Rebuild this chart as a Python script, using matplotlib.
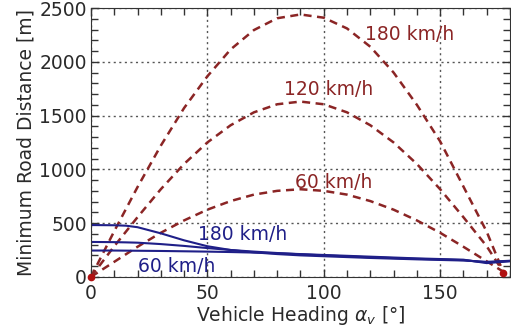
import numpy as np
import matplotlib
matplotlib.use("Agg")
import matplotlib.pyplot as plt
from matplotlib.ticker import MultipleLocator

# heading angles [deg] at which the curves were sampled
angles_red = [0, 10, 20, 30, 40, 50, 60, 70, 80, 90, 100, 110, 120, 130, 140, 150, 160, 170, 177]
red_180 = [0, 425, 835, 1220, 1570, 1865, 2115, 2295, 2405, 2440, 2410, 2310, 2140, 1900, 1600, 1260, 840, 420, 50]
red_120 = [0, 285, 555, 815, 1050, 1250, 1410, 1530, 1605, 1630, 1605, 1530, 1410, 1250, 1050, 815, 555, 285, 50]
red_60 = [0, 140, 280, 410, 525, 625, 705, 765, 800, 815, 800, 765, 705, 625, 525, 410, 280, 145, 50]

angles_blue = [0, 10, 15, 20, 30, 40, 50, 60, 70, 80, 90, 100, 120, 140, 160, 170, 180]
blue_180 = [482, 480, 476, 462, 405, 340, 285, 250, 228, 212, 200, 192, 176, 163, 152, 140, 150]
blue_120 = [325, 323, 321, 318, 305, 288, 268, 250, 235, 222, 210, 200, 182, 168, 156, 135, 148]
blue_60 = [245, 245, 244, 243, 241, 238, 235, 231, 226, 220, 212, 204, 188, 172, 160, 128, 145]

end_points_x = [0, 177]
end_points_y = [0, 40]

red = "#8b2525"
blue = "#1f1f88"
fs = 13.5

plt.rcParams["font.family"] = ["DejaVu Sans"]
plt.rcParams["mathtext.fontset"] = "dejavusans"
plt.rcParams["text.color"] = "#2a2a2a"
plt.rcParams["axes.labelcolor"] = "#2a2a2a"

fig = plt.figure(figsize=(5.11, 3.34), dpi=100)
ax = fig.add_axes([0.178, 0.171, 0.820, 0.805])

for vals in (red_180, red_120, red_60):
    ax.plot(angles_red, vals, color=red, lw=1.8, dashes=(3.2, 2.2))
for vals in (blue_180, blue_120, blue_60):
    ax.plot(angles_blue, vals, color=blue, lw=1.5)
ax.plot(end_points_x, end_points_y, "o", color="#b01010", ms=4.5, ls="none", clip_on=False, zorder=5)

ax.text(117.6, 2250, "180 km/h", color=red, fontsize=fs, va="center")
ax.text(83, 1738, "120 km/h", color=red, fontsize=fs, va="center")
ax.text(87.5, 873, "60 km/h", color=red, fontsize=fs, va="center")
ax.text(46, 390, "180 km/h", color=blue, fontsize=fs, va="center")
ax.text(20.3, 96, "60 km/h", color=blue, fontsize=fs, va="center")

ax.set_xlim(0, 180)
ax.set_ylim(0, 2500)
ax.xaxis.set_major_locator(MultipleLocator(50))
ax.xaxis.set_minor_locator(MultipleLocator(10))
ax.yaxis.set_major_locator(MultipleLocator(500))
ax.yaxis.set_minor_locator(MultipleLocator(100))
ax.tick_params(which="both", direction="in", top=True, right=True, labelsize=fs,
               color="#333333", labelcolor="#2a2a2a")
ax.tick_params(which="major", length=6, width=1)
ax.tick_params(which="minor", length=5, width=1)
ax.tick_params(axis="x", pad=5)
ax.tick_params(axis="y", pad=3)
ax.grid(True, which="major", ls=(0, (1.5, 2.5)), color="#555555", lw=1)
for s in ax.spines.values():
    s.set_color("#333333")

ax.set_xlabel(r"Vehicle Heading $\alpha_v$ [°]", fontsize=fs, labelpad=1)
ax.set_ylabel("Minimum Road Distance [m]", fontsize=fs, labelpad=3)

fig.savefig("out.png", dpi=100)
